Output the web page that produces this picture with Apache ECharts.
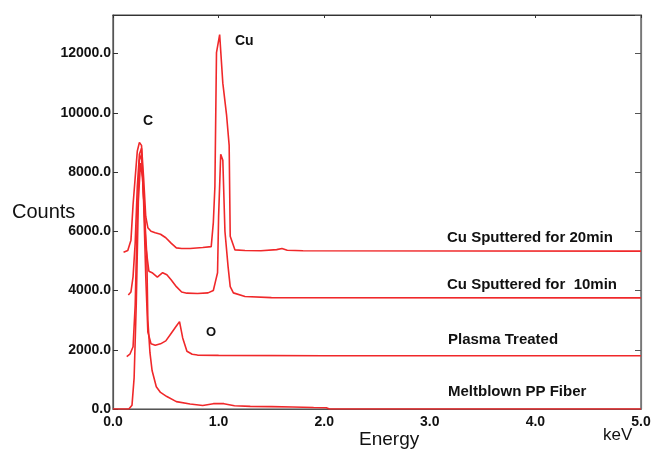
<!DOCTYPE html>
<html lang="en">
<head>
    <meta charset="UTF-8"/>
    <title>EDS spectra</title>
    <script src="https://cdn.jsdelivr.net/npm/echarts@6/dist/echarts.min.js"></script>
    <style>
        html, body { margin: 0; padding: 0; background: #fff; }
        #main { width: 664px; height: 452px; }
    </style>
</head>
<body>
<div id="main"></div>
<script>
    // Meltblown PP Fiber
    var ppEnergy = [0, 0.15, 0.18, 0.20, 0.22, 0.24, 0.26, 0.28, 0.30, 0.32, 0.33, 0.35, 0.37, 0.41, 0.45, 0.51, 0.60, 0.73, 0.85, 0.95, 1.05, 1.15, 1.3, 1.5, 1.7, 1.9, 2.02, 2.05, 5.0];
    var ppCounts = [0, 0, 130, 1050, 3500, 7000, 8300, 7800, 6500, 5200, 3000, 1900, 1300, 750, 560, 420, 250, 170, 120, 180, 180, 110, 90, 80, 70, 50, 40, 0, 0];

    // Plasma Treated
    var plEnergy = [0.13, 0.16, 0.19, 0.21, 0.23, 0.25, 0.27, 0.29, 0.31, 0.33, 0.36, 0.40, 0.45, 0.50, 0.55, 0.60, 0.63, 0.66, 0.70, 0.75, 0.80, 1.0, 2.0, 5.0];
    var plCounts = [1770, 1850, 2100, 3500, 6500, 8400, 8600, 7000, 4500, 2600, 2200, 2150, 2200, 2300, 2550, 2800, 2950, 2400, 1950, 1850, 1820, 1810, 1800, 1800];

    // Cu Sputtered for 10min
    var cu10Energy = [0.145, 0.17, 0.19, 0.21, 0.23, 0.25, 0.27, 0.29, 0.31, 0.34, 0.37, 0.42, 0.47, 0.51, 0.55, 0.60, 0.65, 0.70, 0.80, 0.90, 0.95, 0.97, 0.99, 1.00, 1.02, 1.04, 1.06, 1.09, 1.11, 1.14, 1.25, 1.5, 5.0];
    var cu10Counts = [3850, 3950, 4470, 5600, 7500, 8600, 8800, 7200, 5500, 4650, 4600, 4450, 4600, 4530, 4360, 4130, 3950, 3910, 3900, 3920, 4000, 4300, 4600, 6500, 8600, 8400, 6000, 4800, 4130, 3920, 3800, 3760, 3750];

    // Cu Sputtered for 20min
    var cu20Energy = [0.10, 0.14, 0.17, 0.19, 0.21, 0.23, 0.25, 0.27, 0.29, 0.31, 0.33, 0.36, 0.40, 0.45, 0.50, 0.55, 0.60, 0.65, 0.73, 0.85, 0.93, 0.95, 0.965, 0.98, 1.01, 1.04, 1.075, 1.10, 1.11, 1.155, 1.25, 1.4, 1.55, 1.6, 1.65, 1.8, 5.0];
    var cu20Counts = [5290, 5350, 5700, 6900, 7800, 8700, 9000, 8900, 7800, 6500, 6120, 6000, 5950, 5900, 5780, 5600, 5440, 5420, 5420, 5450, 5480, 6290, 7510, 12030, 12640, 11000, 9940, 8900, 5830, 5370, 5350, 5340, 5380, 5420, 5360, 5340, 5330];

    var seriesNames = ['Meltblown PP Fiber', 'Plasma Treated', 'Cu Sputtered for  10min', 'Cu Sputtered for 20min'];

    function pairs(xs, ys) {
        return xs.map(function (x, i) { return [x, ys[i]]; });
    }

    var lineColor = '#f0282a';
    var txt = '#111';

    var myChart = echarts.init(document.getElementById('main'));

    function spec(name, xs, ys) {
        return {
            name: name,
            type: 'line',
            data: pairs(xs, ys),
            showSymbol: false,
            symbol: 'none',
            lineStyle: { color: lineColor, width: 1.6 },
            itemStyle: { color: lineColor },
            z: 3
        };
    }

    myChart.setOption({
        animation: false,
        backgroundColor: '#fff',
        grid: { left: 113, right: 23, top: 15, bottom: 43, show: true, borderColor: '#444', borderWidth: 1.2 },
        xAxis: [{
            type: 'value', min: 0, max: 5, interval: 1,
            axisLine: { show: true, onZero: false, lineStyle: { color: '#555', width: 1 } },
            axisTick: { show: false },
            splitLine: { show: false },
            axisLabel: {
                margin: 6,
                color: txt, fontFamily: 'Liberation Sans, Arial', fontWeight: 'bold', fontSize: 14,
                formatter: function (v) { return v.toFixed(1); }
            }
        }, {
            type: 'value', min: 0, max: 5, interval: 1, position: 'top',
            axisLine: { show: true, onZero: false, lineStyle: { color: '#333', width: 1.2 } },
            axisTick: { show: true, inside: true, length: 3, lineStyle: { color: '#333' } },
            axisLabel: { show: false },
            splitLine: { show: false }
        }],
        yAxis: [{
            type: 'value', min: 0, max: 13300, interval: 2000,
            axisLine: { show: true, onZero: false, lineStyle: { color: '#555', width: 1.2 } },
            axisTick: { show: true, inside: true, length: 5, lineStyle: { color: '#333' } },
            splitLine: { show: false },
            axisLabel: {
                margin: 2, showMaxLabel: false,
                color: txt, fontFamily: 'Liberation Sans, Arial', fontWeight: 'bold', fontSize: 14,
                formatter: function (v) { return v % 2000 === 0 ? v.toFixed(1) : ''; }
            }
        }, {
            type: 'value', min: 0, max: 13300, interval: 2000, position: 'right',
            axisLine: { show: true, onZero: false, lineStyle: { color: '#777', width: 1.2 } },
            axisTick: { show: true, inside: true, length: 6, lineStyle: { color: '#555' } },
            axisLabel: { show: false },
            splitLine: { show: false }
        }],
        series: [
            spec(seriesNames[0], ppEnergy, ppCounts),
            spec(seriesNames[1], plEnergy, plCounts),
            spec(seriesNames[2], cu10Energy, cu10Counts),
            spec(seriesNames[3], cu20Energy, cu20Counts),
            // empty series so the mirrored top/right axes are drawn
            { type: 'line', xAxisIndex: 1, yAxisIndex: 1, data: [], silent: true }
        ],
        graphic: [
            { type: 'text', left: 12, top: 202, style: { text: 'Counts', fill: txt, font: '20px Liberation Sans' } },
            { type: 'text', left: 359, top: 430, style: { text: 'Energy', fill: txt, font: '19px Liberation Sans' } },
            { type: 'text', left: 603, top: 427, style: { text: 'keV', fill: txt, font: '17px Liberation Sans' } },
            { type: 'text', left: 143, top: 114, style: { text: 'C', fill: txt, font: 'bold 14px Liberation Sans' } },
            { type: 'text', left: 235, top: 34, style: { text: 'Cu', fill: txt, font: 'bold 14px Liberation Sans' } },
            { type: 'text', left: 206, top: 326, style: { text: 'O', fill: txt, font: 'bold 13px Liberation Sans' } },
            { type: 'text', left: 447, top: 230, style: { text: seriesNames[3], fill: txt, font: 'bold 15px Liberation Sans' } },
            { type: 'text', left: 447, top: 277, style: { text: seriesNames[2], fill: txt, font: 'bold 15px Liberation Sans' } },
            { type: 'text', left: 448, top: 332, style: { text: seriesNames[1], fill: txt, font: 'bold 15px Liberation Sans' } },
            { type: 'text', left: 448, top: 384, style: { text: seriesNames[0], fill: txt, font: 'bold 15px Liberation Sans' } }
        ]
    });
</script>
</body>
</html>
